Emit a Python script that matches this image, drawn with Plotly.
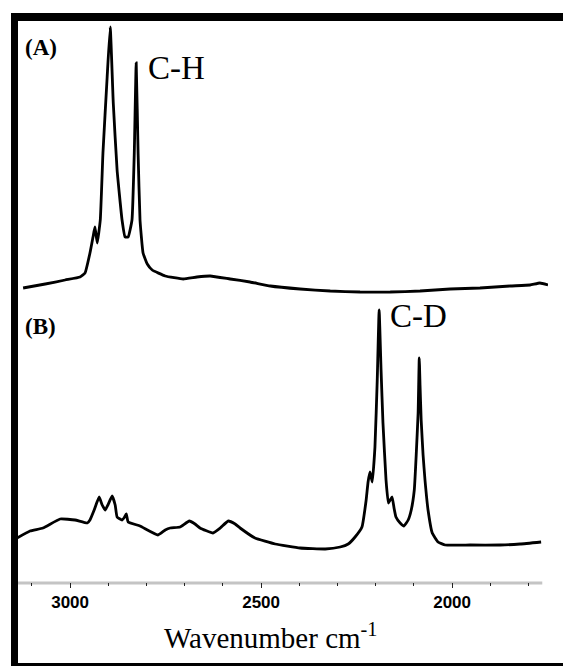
import plotly.graph_objects as go

# IR spectra: (A) C-H sample, (B) C-D sample
wn_a = [3123, 3065, 3013, 2974, 2961, 2948, 2940, 2935, 2929, 2921, 2914, 2903,
        2895, 2887, 2877, 2864, 2856, 2848, 2838, 2832, 2827, 2822, 2817, 2809,
        2798, 2785, 2751, 2704, 2668, 2633, 2581, 2529, 2476, 2398, 2319, 2241,
        2162, 2084, 2005, 1927, 1848, 1796, 1770, 1749]
abs_a = [0.04, 0.08, 0.12, 0.15, 0.19, 0.39, 0.55, 0.65, 0.49, 0.72, 1.39, 2.15,
         2.65, 1.89, 1.22, 0.72, 0.55, 0.55, 0.72, 1.39, 2.29, 1.39, 0.72, 0.39,
         0.28, 0.22, 0.16, 0.13, 0.15, 0.16, 0.13, 0.10, 0.06, 0.03, 0.01, 0.00,
         0.00, 0.01, 0.03, 0.04, 0.06, 0.07, 0.09, 0.07]

wn_b = [3139, 3105, 3071, 3026, 2987, 2955, 2948, 2937, 2924, 2916, 2908, 2901,
        2890, 2882, 2877, 2864, 2859, 2853, 2848, 2817, 2770, 2751, 2738, 2712,
        2688, 2673, 2660, 2626, 2607, 2586, 2568, 2555, 2516, 2463, 2398, 2332,
        2293, 2272, 2254, 2236, 2225, 2220, 2215, 2209, 2202, 2196, 2191, 2186,
        2181, 2173, 2167, 2162, 2157, 2152, 2147, 2136, 2126, 2115, 2107, 2099,
        2094, 2089, 2086, 2084, 2081, 2076, 2071, 2063, 2052, 2037, 2018, 1953,
        1874, 1822, 1767]
abs_b = [0.10, 0.17, 0.20, 0.29, 0.28, 0.25, 0.28, 0.38, 0.51, 0.43, 0.38, 0.43,
         0.52, 0.43, 0.31, 0.28, 0.30, 0.34, 0.26, 0.22, 0.13, 0.18, 0.20, 0.21,
         0.27, 0.24, 0.20, 0.15, 0.20, 0.27, 0.24, 0.20, 0.10, 0.04, 0.00, -0.01,
         0.01, 0.04, 0.11, 0.21, 0.48, 0.66, 0.76, 0.66, 1.01, 1.68, 2.38, 1.78,
         1.25, 0.68, 0.45, 0.48, 0.51, 0.40, 0.31, 0.25, 0.22, 0.28, 0.38, 0.58,
         0.93, 1.35, 1.90, 1.63, 1.28, 0.93, 0.68, 0.38, 0.15, 0.06, 0.03, 0.03,
         0.03, 0.04, 0.06]

x_major_ticks = [3000, 2500, 2000]
x_tick_text = ["3000", "2500", "2000"]

# vertical stacking of the two spectra
offset_a = 2.90
offset_b = 0.34

W, H = 563, 666
L, R, T, B = 17, 15, 21, 84
pw, ph = W - L - R, H - T - B


def px(x):
    return (x - L) / pw


def py(y):
    return (H - B - y) / ph


line_style = dict(color="black", width=2.8, shape="spline", smoothing=0.35)

fig = go.Figure()
fig.add_trace(go.Scatter(x=wn_a, y=[v + offset_a for v in abs_a], mode="lines",
                         line=line_style, showlegend=False))
fig.add_trace(go.Scatter(x=wn_b, y=[v + offset_b for v in abs_b], mode="lines",
                         line=line_style, showlegend=False))

shapes = [
    # gray baseline axis
    dict(type="line", xref="x", yref="paper", x0=3139, x1=1764, y0=py(583), y1=py(583),
         line=dict(color="#c4c4c4", width=3), layer="below"),
    # black frame (left, top, bottom)
    dict(type="rect", xref="paper", yref="paper", x0=px(11), x1=px(18), y0=py(670), y1=py(13),
         fillcolor="black", line=dict(width=0)),
    dict(type="rect", xref="paper", yref="paper", x0=px(11), x1=px(575), y0=py(21), y1=py(13),
         fillcolor="black", line=dict(width=0)),
    dict(type="rect", xref="paper", yref="paper", x0=px(11), x1=px(575), y0=py(670), y1=py(663),
         fillcolor="black", line=dict(width=0)),
]

serif = "Liberation Serif, Times New Roman, serif"
annotations = [
    dict(text="<b>(A)</b>", x=px(23), y=py(48), xanchor="left", yanchor="middle",
         font=dict(family=serif, size=23, color="black")),
    dict(text="<b>(B)</b>", x=px(23), y=py(326), xanchor="left", yanchor="middle",
         font=dict(family=serif, size=23, color="black")),
    dict(text="C-H", x=px(146), y=py(68), xanchor="left", yanchor="middle",
         font=dict(family=serif, size=33, color="black")),
    dict(text="C-D", x=px(388), y=py(316), xanchor="left", yanchor="middle",
         font=dict(family=serif, size=33, color="black")),
    dict(text="Wavenumber cm<sup>-1</sup>", x=px(270), y=py(636), xanchor="center",
         yanchor="middle", font=dict(family=serif, size=29, color="black")),
]
for a in annotations:
    a.update(xref="paper", yref="paper", showarrow=False)

fig.update_layout(
    width=W, height=H,
    margin=dict(l=L, r=R, t=T, b=B, pad=0),
    paper_bgcolor="white", plot_bgcolor="white",
    shapes=shapes, annotations=annotations,
    xaxis=dict(range=[3139, 1749], showgrid=False, zeroline=False, showline=False,
               tickmode="array", tickvals=x_major_ticks, ticktext=x_tick_text,
               ticks="outside", ticklen=5, tickwidth=1, tickcolor="#222",
               tickfont=dict(family="Liberation Sans, Arial, sans-serif", size=17,
                             color="black", weight="bold"),
               minor=dict(dtick=100, tick0=2000, ticks="outside", ticklen=3,
                          tickwidth=1, tickcolor="#222")),
    yaxis=dict(range=[0, 5.61], visible=False, showgrid=False, zeroline=False),
)

fig.write_html("out.html")
